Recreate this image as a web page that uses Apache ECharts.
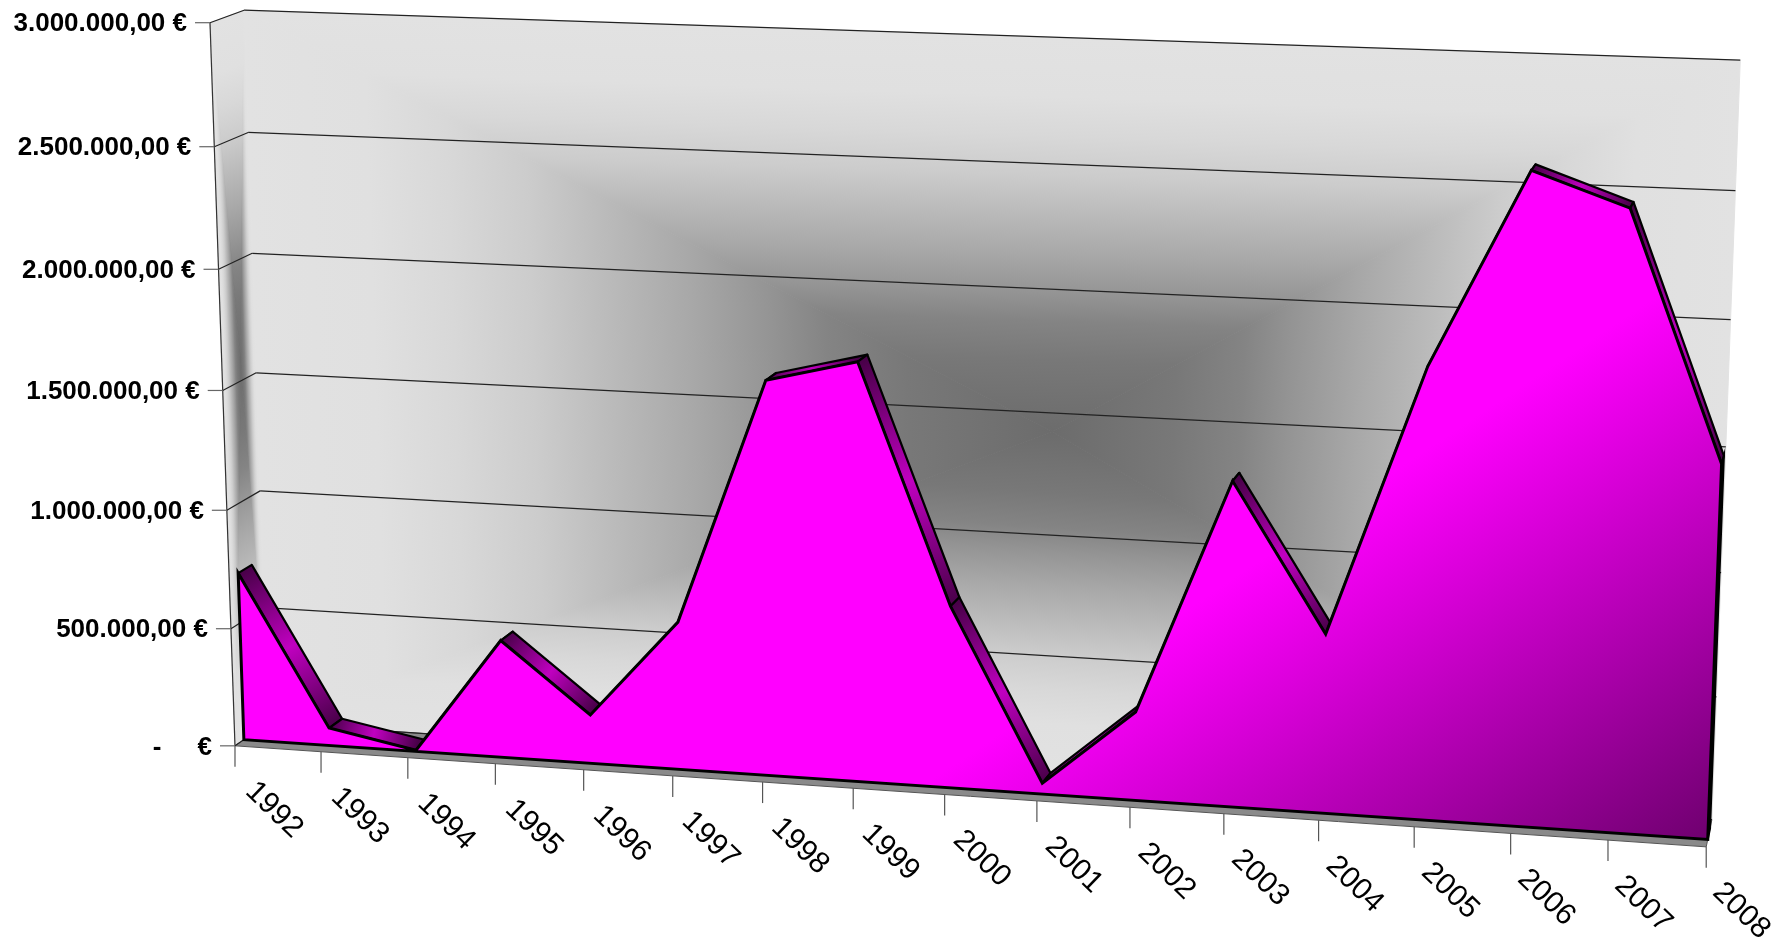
<!DOCTYPE html>
<html><head><meta charset="utf-8">
<style>html,body{margin:0;padding:0;background:#fff}#c{width:1780px;height:941px}</style>
<script src="https://cdn.jsdelivr.net/npm/echarts@6/dist/echarts.min.js"></script>
</head><body><div id="c"></div>
<script>
const categories = ['1992','1993','1994','1995','1996','1997','1998','1999','2000','2001','2002','2003','2004','2005','2006','2007','2008'];
const values = [712000,75000,5000,495000,205000,618000,1632000,1725000,752000,45000,365000,1323000,730000,1815000,2590000,2460000,1490000];
const yTicks = [0,500000,1000000,1500000,2000000,2500000,3000000];
const yTickLabels = ['-     €','500.000,00 €','1.000.000,00 €','1.500.000,00 €','2.000.000,00 €','2.500.000,00 €','3.000.000,00 €'];

const K = 1780/1568;
const P = (x,y)=>[x*K,y*K];
const FRONT = {tl:P(185,20), tr:P(1528,64), bl:P(207,657), br:P(1503,746)};
const BACK  = {tl:P(215,9),  tr:P(1533,53), bl:P(236,637), br:P(1508,722)};
const D1 = 0.27, D2 = 0.68;
const lerp=(a,b,t)=>[a[0]+(b[0]-a[0])*t,a[1]+(b[1]-a[1])*t];
function quadAt(d){return {tl:lerp(FRONT.tl,BACK.tl,d),tr:lerp(FRONT.tr,BACK.tr,d),bl:lerp(FRONT.bl,BACK.bl,d),br:lerp(FRONT.br,BACK.br,d)};}
function homog(q,u,v){
  const x0=q.bl[0],y0=q.bl[1],x1=q.br[0],y1=q.br[1],x2=q.tr[0],y2=q.tr[1],x3=q.tl[0],y3=q.tl[1];
  const dx1=x1-x2,dx2=x3-x2,dx3=x0-x1+x2-x3,dy1=y1-y2,dy2=y3-y2,dy3=y0-y1+y2-y3;
  const den=dx1*dy2-dx2*dy1;
  const g=(dx3*dy2-dx2*dy3)/den,h=(dx1*dy3-dx3*dy1)/den;
  const a=x1-x0+g*x1,b=x3-x0+h*x3,c=x0,d=y1-y0+g*y1,e=y3-y0+h*y3,f=y0;
  const w=g*u+h*v+1;
  return [(a*u+b*v+c)/w,(d*u+e*v+f)/w];
}
function proj(u,v,d){return homog(quadAt(d),u,v);}
function toUnit(params,pt){const r=params.coordSys;return [(pt[0]-r.x)/r.width,(r.y+r.height-pt[1])/r.height];}
function pr(params,api,cat,val,d){const p=toUnit(params,api.coord([cat,val]));return proj(p[0],p[1],d);}

const WALL_STOPS=[[0,'#e2e2e2'],[0.15,'#e0e0e0'],[0.25,'#d8d8d8'],[0.35,'#cccccc'],[0.46,'#b8b8b8'],[0.55,'#a8a8a8'],[0.65,'#949494'],[0.72,'#848484'],[0.82,'#787878'],[1,'#6c6c6c']];
function rectGradient(a,b,c,d,center){
  const out=[];
  [[a,b],[b,c],[c,d],[d,a]].forEach(([p,q])=>{
    const ex=q[0]-p[0],ey=q[1]-p[1],len2=ex*ex+ey*ey;
    const t=((center[0]-p[0])*ex+(center[1]-p[1])*ey)/len2;
    const foot=[p[0]+ex*t,p[1]+ey*t];
    const mk=()=>new echarts.graphic.LinearGradient(foot[0],foot[1],center[0],center[1],WALL_STOPS.map(s=>({offset:s[0],color:s[1]})),true);
    out.push({type:'polygon',shape:{points:[p,q,center]},style:{fill:mk(),stroke:mk(),lineWidth:1}});
  });
  return out;
}
const line=(a,b,color,w)=>({type:'line',shape:{x1:a[0],y1:a[1],x2:b[0],y2:b[1]},style:{stroke:color,lineWidth:w,fill:null}});

function renderWalls(params,api){
  const ch=[];
  ch.push(...rectGradient(BACK.tl,BACK.tr,BACK.br,BACK.bl,P(927,380)));
  const cs=homog({tl:FRONT.tl,tr:BACK.tl,bl:FRONT.bl,br:BACK.bl},0.55,0.52);
  ch.push(...rectGradient(FRONT.tl,BACK.tl,BACK.bl,FRONT.bl,cs));
  ch.push({type:'polygon',shape:{points:[FRONT.bl,BACK.bl,BACK.br,FRONT.br]},style:{fill:'#8a8a8a',stroke:'#555',lineWidth:1}});
  ch.push(line(FRONT.tl,FRONT.bl,'#333',1.2));
  return {type:'group',children:ch};
}
function renderY(params,api){
  const v=api.value(1), i=params.dataIndex;
  const a=pr(params,api,0,v,0), b=pr(params,api,0,v,1), c=pr(params,api,categories.length-1,v,1);
  const ch=[line(a,b,'#222',1.2)];
  ch.push(line(b,c,'#222',1.2));
  ch.push(line([a[0]-15,a[1]],a,'#666',1.2));
  ch.push({type:'text',x:a[0]-23,y:a[1]+1.5,style:{text:yTickLabels[i],font:'bold 26px "Liberation Sans",Arial,sans-serif',fill:'#000',align:'right',verticalAlign:'middle'}});
  return {type:'group',children:ch};
}
function renderX(params,api){
  const i=api.value(0);
  const a=pr(params,api,i,0,0);
  const ch=[line(a,[a[0],a[1]+21],'#555',1.2)];
  ch.push({type:'text',x:a[0]+15-4*i/(categories.length-1),y:a[1]+41,rotation:-44*Math.PI/180,originX:0,originY:0,style:{text:categories[i],font:'30px "Liberation Sans",Arial,sans-serif',fill:'#000',align:'left',verticalAlign:'middle'}});
  return {type:'group',children:ch};
}
function renderTop(params,api){
  const i=api.value(0);
  if(i>=values.length-1){
    const a=pr(params,api,i,values[i],D1),b=pr(params,api,i,values[i],D2),c=pr(params,api,i,0,D2),d=pr(params,api,i,0,D1);
    return {type:'polygon',shape:{points:[a,b,c,d]},style:{fill:'#000',stroke:'#000',lineWidth:2}};
  }
  const a=pr(params,api,i,values[i],D1),b=pr(params,api,i+1,values[i+1],D1),c=pr(params,api,i+1,values[i+1],D2),d=pr(params,api,i,values[i],D2);
  const g=new echarts.graphic.LinearGradient(a[0],a[1],b[0],b[1],[{offset:0,color:'#480048'},{offset:0.5,color:'#c000c0'},{offset:1,color:'#480048'}],true);
  return {type:'polygon',shape:{points:[a,b,c,d]},style:{fill:g,stroke:'#000',lineWidth:2.2,lineJoin:'round'}};
}
function renderFront(params,api){
  if(params.dataIndex!==0) return null;
  const pts=[pr(params,api,0,0,D1)];
  categories.forEach((c,i)=>pts.push(pr(params,api,i,values[i],D1)));
  pts.push(pr(params,api,categories.length-1,0,D1));
  const s=P(1000,567),e=P(1250,942);
  const g=new echarts.graphic.LinearGradient(s[0],s[1],e[0],e[1],[{offset:0,color:'#ff00ff'},{offset:1,color:'#660066'}],true);
  return {type:'polygon',shape:{points:pts},style:{fill:g,stroke:'#000',lineWidth:3,lineJoin:'miter'}};
}
const idx=categories.map((c,i)=>[i,values[i]]);
const cs={coordinateSystem:'cartesian2d',silent:true,animation:false,clip:false};
const chart=echarts.init(document.getElementById('c'),null,{renderer:'canvas'});
chart.setOption({
  animation:false,backgroundColor:'#fff',
  grid:{left:0,right:0,top:0,bottom:0},
  xAxis:{type:'category',data:categories,boundaryGap:false,show:false},
  yAxis:{type:'value',min:0,max:3000000,interval:500000,show:false},
  series:[
    Object.assign({type:'custom',name:'walls',renderItem:renderWalls,data:[[0,0]]},cs),
    Object.assign({type:'custom',name:'yAxis',renderItem:renderY,data:yTicks.map(v=>[0,v])},cs),
    Object.assign({type:'custom',name:'xAxis',renderItem:renderX,data:categories.map((c,i)=>[i,0])},cs),
    Object.assign({type:'custom',name:'areaDepth',renderItem:renderTop,data:idx},cs),
    Object.assign({type:'custom',name:'areaFront',renderItem:renderFront,data:idx},cs)
  ]
});
</script></body></html>
